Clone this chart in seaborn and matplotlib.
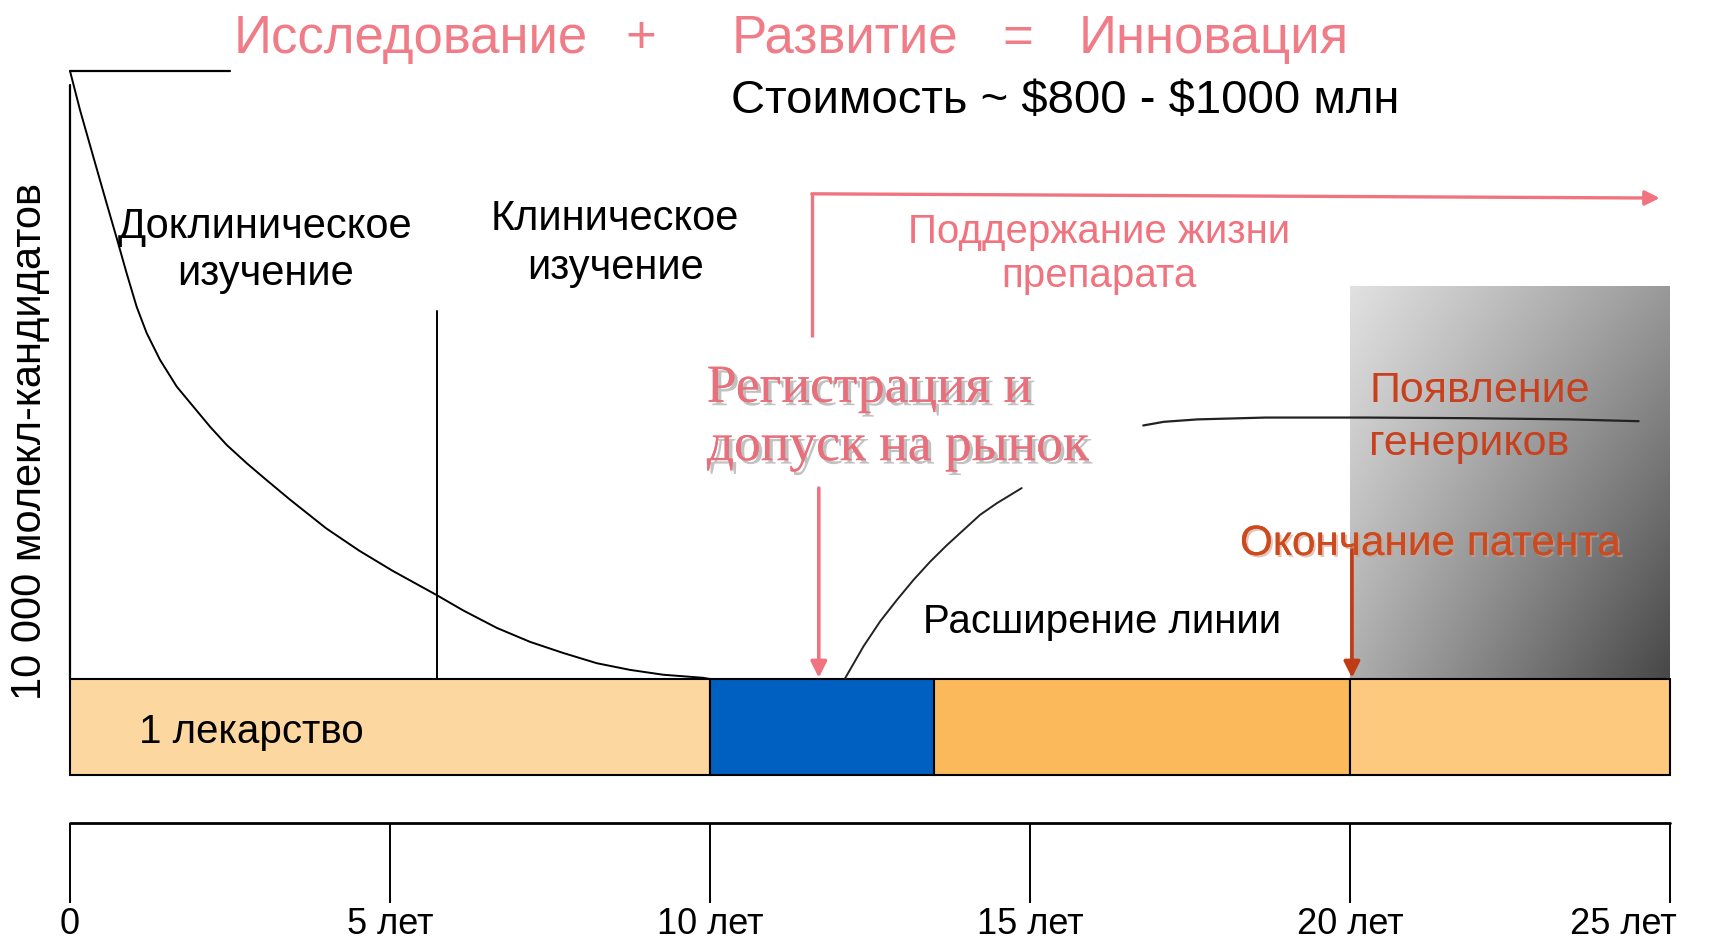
import numpy as np
import pandas as pd
import matplotlib
matplotlib.use("Agg")
import matplotlib.pyplot as plt
import seaborn as sns
from matplotlib import patheffects as pe

# ---------------- data ----------------
tick_years = [0, 5, 10, 15, 20, 25]
tick_labels = ["0", "5 лет", "10 лет", "15 лет", "20 лет", "25 лет"]
tick_align = ["center", "center", "center", "center", "center", "right"]

segment_starts = [0, 10, 13.5, 20]
segment_lengths = [10, 3.5, 6.5, 5]
segment_colors = ["#FCD8A0", "#0060C2", "#FBB95C", "#FDC97E"]

# candidate molecules decay curve (years, relative level 0..100)
decay_years = [0.0, 0.156, 0.364, 0.573, 0.730, 0.886, 1.042, 1.198, 1.406, 1.667,
               1.927, 2.188, 2.448, 2.760, 3.073, 3.438, 4.0, 4.52, 5.04, 5.73,
               6.14, 6.67, 7.19, 7.70, 8.23, 8.75, 9.27, 9.89, 10.0]
decay_values = [100.0, 93.6, 85.9, 78.2, 72.5, 66.7, 61.2, 56.9, 52.5, 48.1,
                44.8, 41.5, 38.5, 35.5, 32.7, 29.5, 24.8, 21.1, 17.8, 13.8,
                11.3, 8.4, 6.1, 4.3, 2.6, 1.5, 0.7, 0.2, 0.0]

# line-extension curve
ext_years = [12.11, 12.40, 12.66, 12.92, 13.18, 13.44, 13.70, 13.96, 14.22, 14.48, 14.87]
ext_values = [0.1, 5.4, 9.5, 13.0, 16.3, 19.3, 22.0, 24.5, 27.0, 28.9, 31.4]

# generics line
gen_years = [16.77, 17.09, 17.62, 18.68, 20.26, 21.84, 23.43, 24.51]
gen_values = [41.7, 42.3, 42.7, 43.0, 43.0, 42.9, 42.7, 42.4]

# ---------------- figure ----------------
sns.set_theme(style="white")
plt.rcParams['font.family'] = ['Liberation Sans', 'DejaVu Sans']

fig = plt.figure(figsize=(17.18, 9.44), dpi=100)
fig.patch.set_facecolor("white")
ax = fig.add_axes([0, 0, 1, 1])
ax.set_facecolor("white")

# gray gradient block (generics era)
nx, ny = 200, 200
u = np.linspace(0, 1, nx)[None, :]
v = np.linspace(0, 1, ny)[:, None]
grad = 0.88 - 0.28 * u - 0.20 * v - 0.12 * u * v
ax.imshow(grad, cmap="gray", vmin=0, vmax=1, extent=[20, 25, 0, 64.6],
          origin="upper", aspect="auto", zorder=1, interpolation="bilinear")

# bars
ax.barh(y=-7.9, width=segment_lengths, left=segment_starts, height=15.8,
        color=segment_colors, edgecolor="black", linewidth=1.5, zorder=3)

# axes lines
ax.plot([0, 0], [97.7, 0], color="black", lw=1.6, zorder=2)
ax.plot([0, 2.5], [100, 100], color="black", lw=1.6, zorder=2)
ax.plot([5.73, 5.73], [60.5, 0], color="black", lw=1.4, zorder=2)

# curves
sns.lineplot(x=decay_years, y=decay_values, ax=ax, color="black", lw=1.4,
             sort=False, estimator=None, zorder=4)
sns.lineplot(x=ext_years, y=ext_values, ax=ax, color="#222222", lw=1.4,
             sort=False, estimator=None, zorder=4)
sns.lineplot(x=gen_years, y=gen_values, ax=ax, color="#222222", lw=1.6,
             sort=False, estimator=None, zorder=4)

# time axis
ax.plot([0, 25], [-23.7, -23.7], color="black", lw=2.0, zorder=2)
ax.vlines(tick_years, -36.8, -23.7, color="black", lw=1.4)
for yr, lab, al in zip(tick_years, tick_labels, tick_align):
    xoff = 0.1 if al == "right" else 0.0
    ax.text(yr + xoff, -42.0, lab, ha=al, va="baseline", fontsize=26, color="black")

# arrows
pink = "#F07480"
ax.plot([11.59, 11.59], [56.3, 79.8], color=pink, lw=2.4, solid_capstyle="butt", zorder=5)
ax.annotate("", xy=(24.84, 79.1), xytext=(11.59, 79.8),
            arrowprops=dict(arrowstyle="-|>", color=pink, lw=2.4,
                            mutation_scale=22, shrinkA=0, shrinkB=0), zorder=5)
ax.annotate("", xy=(11.70, 0.2), xytext=(11.70, 31.4),
            arrowprops=dict(arrowstyle="-|>", color=pink, lw=2.6,
                            mutation_scale=24, shrinkA=0, shrinkB=0), zorder=5)
ax.annotate("", xy=(20.03, 0.2), xytext=(20.03, 21.7),
            arrowprops=dict(arrowstyle="-|>", color="#C03A14", lw=2.6,
                            mutation_scale=24, shrinkA=0, shrinkB=0), zorder=5)

# ---------------- texts ----------------
title_pink = "#EF7C86"
title_parts = [("Исследование", 2.55), ("+", 8.67), ("Развитие", 10.34), ("=", 14.57), ("Инновация", 15.76)]
for txt, xpos in title_parts:
    ax.text(xpos, 103.0, txt, ha="left", va="baseline", fontsize=38, color=title_pink)

ax.text(10.33, 93.1, "Стоимость ~ $800 - $1000 млн", ha="left", va="baseline",
        fontsize=34, color="black", parse_math=False)

ax.text(-0.625, 39.1, "10 000 молекл-кандидатов", rotation=90, ha="center", va="center",
        fontsize=30, color="black")

ax.text(3.05, 72.5, "Доклиническое", ha="center", va="baseline", fontsize=30, color="black")
ax.text(3.05, 64.8, "изучение", ha="center", va="baseline", fontsize=30, color="black")
ax.text(8.52, 73.8, "Клиническое", ha="center", va="baseline", fontsize=30, color="black")
ax.text(8.52, 65.8, "изучение", ha="center", va="baseline", fontsize=30, color="black")

ax.text(16.08, 71.7, "Поддержание жизни", ha="center", va="baseline", fontsize=29, color=pink)
ax.text(16.08, 64.5, "препарата", ha="center", va="baseline", fontsize=29, color=pink)

shadow = [pe.withSimplePatchShadow(offset=(2.5, -2.5), shadow_rgbFace="#999999", alpha=0.6),
          pe.Normal()]
ax.text(9.95, 45.6, "Регистрация и", ha="left", va="baseline", fontsize=38.5,
        color="#E8707C", family=["Liberation Serif", "DejaVu Serif"], path_effects=shadow)
ax.text(9.95, 36.0, "допуск на рынок", ha="left", va="baseline", fontsize=38.5,
        color="#E8707C", family=["Liberation Serif", "DejaVu Serif"], path_effects=shadow)

gen_red = "#C8401E"
ax.text(20.30, 45.6, "Появление", ha="left", va="baseline", fontsize=31, color=gen_red, zorder=6)
ax.text(20.30, 36.8, "генериков", ha="left", va="baseline", fontsize=31, color=gen_red, zorder=6)

shadow2 = [pe.withSimplePatchShadow(offset=(1.5, -1.5), shadow_rgbFace="#D0A090", alpha=0.6),
           pe.Normal()]
ax.text(18.28, 20.4, "Окончание патента", ha="left", va="baseline", fontsize=30.5,
        color="#CC4A1E", path_effects=shadow2, zorder=6)

ax.text(13.33, 7.6, "Расширение линии", ha="left", va="baseline", fontsize=29, color="black")
ax.text(1.08, -10.5, "1 лекарство", ha="left", va="baseline", fontsize=29, color="black", zorder=6)

ax.set_xlim(-70 / 64, 1648 / 64)
ax.set_ylim((679 - 944) / 6.08, 679 / 6.08)
ax.axis("off")

fig.savefig("out.png", dpi=100, facecolor="white")
